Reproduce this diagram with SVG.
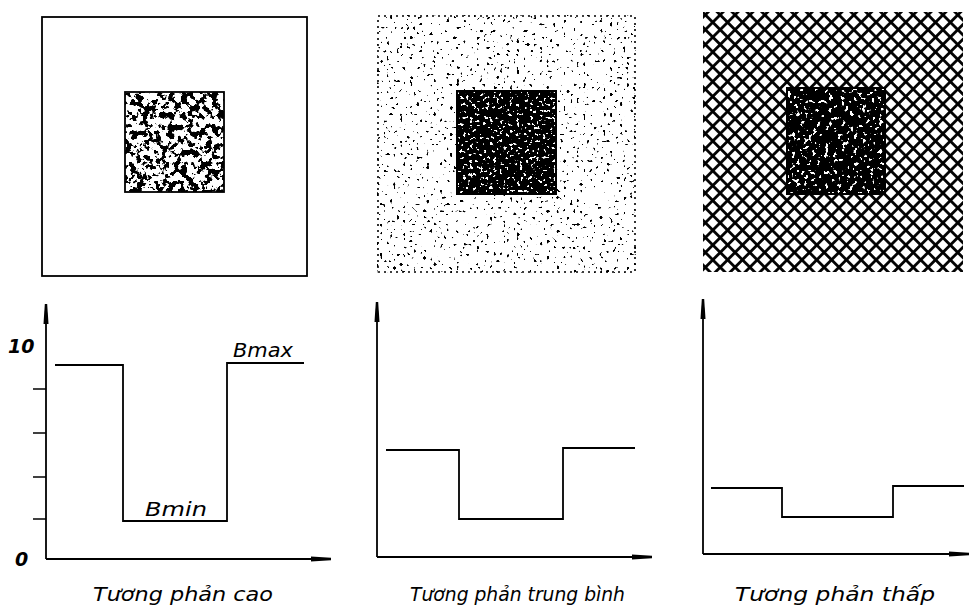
<svg xmlns="http://www.w3.org/2000/svg" width="970" height="610" viewBox="0 0 970 610">
<style>
.ln{fill:none;stroke:#000;stroke-width:1.8}
.ax{fill:none;stroke:#000;stroke-width:1.8}
.tk{stroke:#000;stroke-width:1.5}
.lb{font-family:"DejaVu Sans","Liberation Sans",sans-serif;font-style:italic;fill:#000}
</style>
<defs>
<marker id="ah" markerUnits="userSpaceOnUse" markerWidth="24" markerHeight="8" refX="20" refY="3" orient="auto">
<path d="M0,0.5 L20,1.8 L20,4.2 L0,5.5 z" fill="#000"/>
</marker>
<filter id="fBlob" x="0" y="0" width="1" height="1" color-interpolation-filters="sRGB">
<feTurbulence type="fractalNoise" baseFrequency="0.16" numOctaves="3" seed="7"/>
<feColorMatrix type="matrix" values="0 0 0 0 0 0 0 0 0 0 0 0 0 0 0 25 0 0 0 -12.6"/>
</filter>
<filter id="fDots" x="0" y="0" width="1" height="1" color-interpolation-filters="sRGB">
<feTurbulence type="fractalNoise" baseFrequency="0.3" numOctaves="1" seed="3"/>
<feColorMatrix type="matrix" values="0 0 0 0 0 0 0 0 0 0 0 0 0 0 0 30 0 0 0 -19.9"/>
</filter>
<filter id="fSpeck" x="0" y="0" width="1" height="1" color-interpolation-filters="sRGB">
<feTurbulence type="fractalNoise" baseFrequency="0.3" numOctaves="2" seed="11"/>
<feColorMatrix type="matrix" values="0 0 0 0 1 0 0 0 0 1 0 0 0 0 1 25 0 0 0 -15.8"/>
</filter>
<filter id="fSpeck2" x="0" y="0" width="1" height="1" color-interpolation-filters="sRGB">
<feTurbulence type="fractalNoise" baseFrequency="0.24" numOctaves="2" seed="19"/>
<feColorMatrix type="matrix" values="0 0 0 0 1 0 0 0 0 1 0 0 0 0 1 25 0 0 0 -15.5"/>
</filter>
<pattern id="hatch" width="10.5" height="10.5" patternUnits="userSpaceOnUse" patternTransform="rotate(45)">
<rect width="10.5" height="10.5" fill="#fff"/>
<line x1="0" y1="5.25" x2="10.5" y2="5.25" stroke="#000" stroke-width="2.8"/>
<line x1="5.25" y1="0" x2="5.25" y2="10.5" stroke="#000" stroke-width="2.8"/>
</pattern>
</defs>
<rect width="970" height="610" fill="#fff"/>

<g id="panel-high">
<rect x="42" y="17" width="265" height="259" class="ln"/>
<rect x="125" y="92" width="99" height="100" fill="#fff"/>
<rect x="125" y="92" width="99" height="100" fill="#000" filter="url(#fBlob)"/>
<rect x="125" y="92" width="99" height="100" class="ln"/>
</g>

<g id="panel-medium">
<rect x="377" y="15" width="259" height="258" fill="#000" filter="url(#fDots)"/>
<rect x="378" y="16" width="257" height="256" fill="none" stroke="#000" stroke-width="1.6" stroke-dasharray="2 4"/>
<rect x="456" y="90" width="101" height="105" fill="#000"/>
<rect x="458" y="92" width="97" height="101" fill="#fff" filter="url(#fSpeck)"/>
</g>

<g id="panel-low">
<rect x="703" y="12" width="260" height="260" fill="url(#hatch)"/>
<rect x="786" y="87" width="100" height="108" fill="#000"/>
<rect x="788" y="89" width="96" height="104" fill="#fff" filter="url(#fSpeck2)"/>
</g>

<g id="graph-high">
<line x1="33" y1="389" x2="46" y2="389" class="tk"/>
<line x1="33" y1="433" x2="46" y2="433" class="tk"/>
<line x1="33" y1="477" x2="46" y2="477" class="tk"/>
<line x1="33" y1="519" x2="46" y2="519" class="tk"/>
<polyline points="55,365 123,365 123,521 227,521 227,363 304,363" class="ln"/>
<text x="8" y="353" class="lb" font-size="19" font-weight="bold">10</text>
<text x="15" y="566" class="lb" font-size="19" font-weight="bold">0</text>
<text x="233" y="357" class="lb" font-size="19" textLength="60" lengthAdjust="spacingAndGlyphs">Bmax</text>
<text x="145" y="516" class="lb" font-size="19" textLength="62" lengthAdjust="spacingAndGlyphs">Bmin</text>
<text x="93" y="601" class="lb" font-size="19" textLength="180" lengthAdjust="spacingAndGlyphs">Tương phản cao</text>
</g>

<g id="graph-medium">
<polyline points="386,450 459,450 459,519 563,519 563,448 635,448" class="ln"/>
<text x="410" y="601" class="lb" font-size="19" textLength="215" lengthAdjust="spacingAndGlyphs">Tương phản trung bình</text>
</g>

<g id="graph-low">
<polyline points="711,488 782,488 782,517 893,517 893,486 964,486" class="ln"/>
<text x="735" y="601" class="lb" font-size="19" textLength="200" lengthAdjust="spacingAndGlyphs">Tương phản thấp</text>
</g>

<g id="connectors">
<line x1="46" y1="559" x2="46" y2="304" class="ax" marker-end="url(#ah)"/>
<line x1="46" y1="559" x2="331" y2="559" class="ax" marker-end="url(#ah)"/>
<line x1="377" y1="557" x2="377" y2="302" class="ax" marker-end="url(#ah)"/>
<line x1="377" y1="557" x2="652" y2="557" class="ax" marker-end="url(#ah)"/>
<line x1="703" y1="554" x2="703" y2="299" class="ax" marker-end="url(#ah)"/>
<line x1="703" y1="554" x2="969" y2="554" class="ax" marker-end="url(#ah)"/>
</g>
</svg>
